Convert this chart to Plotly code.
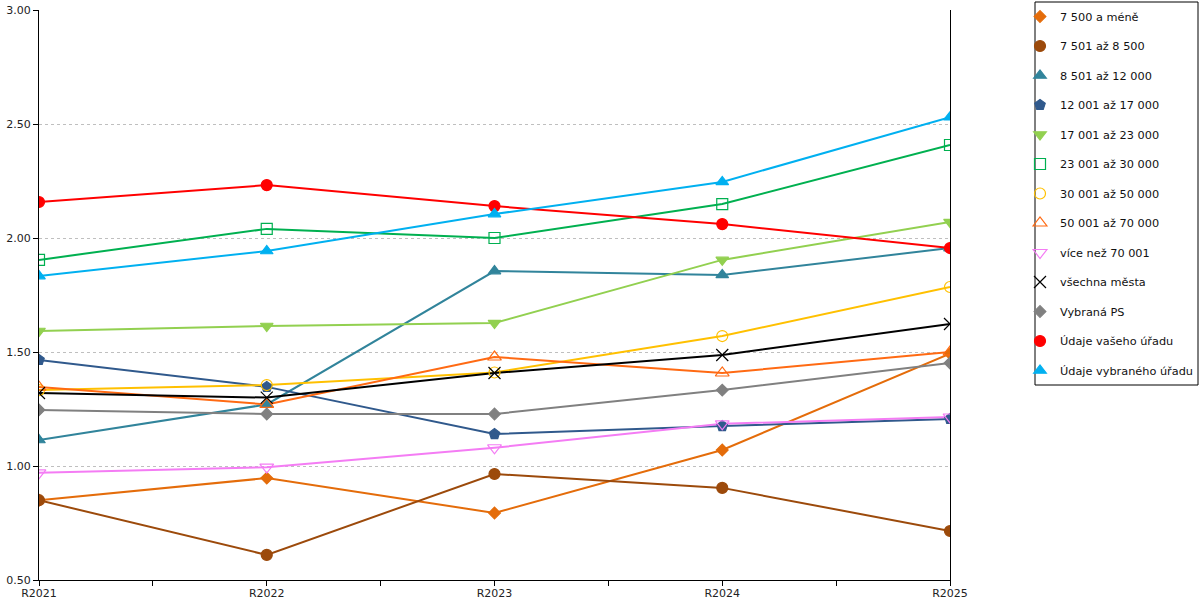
import plotly.graph_objects as go

# ── data ────────────────────────────────────────────────────────────────
YEARS = [2021, 2022, 2023, 2024, 2025]
YEAR_LABELS = ["R2021", "R2022", "R2023", "R2024", "R2025"]

SERIES_NAMES = [
    "7 500 a méně",
    "7 501 až 8 500",
    "8 501 až 12 000",
    "12 001 až 17 000",
    "17 001 až 23 000",
    "23 001 až 30 000",
    "30 001 až 50 000",
    "50 001 až 70 000",
    "více než 70 001",
    "všechna města",
    "Vybraná PS",
    "Údaje vašeho úřadu",
    "Údaje vybraného úřadu",
]

v_do_7500 = [0.85, 0.947, 0.794, 1.07, 1.493]
v_7501_8500 = [0.85, 0.61, 0.965, 0.904, 0.715]
v_8501_12000 = [1.114, 1.27, 1.855, 1.838, 1.956]
v_12001_17000 = [1.465, 1.347, 1.14, 1.175, 1.206]
v_17001_23000 = [1.592, 1.614, 1.627, 1.904, 2.07]
v_23001_30000 = [1.904, 2.04, 2.0, 2.149, 2.408]
v_30001_50000 = [1.333, 1.355, 1.41, 1.57, 1.785]
v_50001_70000 = [1.346, 1.27, 1.478, 1.408, 1.5]
v_nad_70001 = [0.97, 0.995, 1.08, 1.185, 1.215]
v_vsechna = [1.32, 1.30, 1.408, 1.487, 1.623]
v_vybrana_ps = [1.246, 1.228, 1.228, 1.333, 1.452]
v_vas_urad = [2.158, 2.232, 2.14, 2.061, 1.956]
v_vybrany_urad = [1.833, 1.943, 2.105, 2.246, 2.53]

VALUES = [
    v_do_7500, v_7501_8500, v_8501_12000, v_12001_17000, v_17001_23000,
    v_23001_30000, v_30001_50000, v_50001_70000, v_nad_70001, v_vsechna,
    v_vybrana_ps, v_vas_urad, v_vybrany_urad,
]

# ── styling ─────────────────────────────────────────────────────────────
FONT = "DejaVu Sans, Verdana, sans-serif"
W, H = 1200, 600
PLOT_L, PLOT_R, PLOT_T, PLOT_B = 39, 950, 10, 580   # plot area in pixels

STYLES = [
    # (colour, marker symbol, marker size)
    ("#E46C0A", "diamond", 9),
    ("#9C4A0B", "circle", 11),
    ("#31849B", "triangle-up", 11),
    ("#30598C", "pentagon", 11),
    ("#92D050", "triangle-down", 11),
    ("#00B050", "square-open", 11),
    ("#FFC000", "circle-open", 11),
    ("#FF6A13", "triangle-up-open", 12),
    ("#F47CF4", "triangle-down-open", 12),
    ("#000000", "x-thin-open", 12),
    ("#808080", "diamond", 9),
    ("#FF0000", "circle", 11),
    ("#00B0F0", "triangle-up", 11),
]

fig = go.Figure()

# lines first (no legend entry)
for name, vals, (color, symbol, size) in zip(SERIES_NAMES, VALUES, STYLES):
    fig.add_trace(go.Scatter(
        x=YEARS, y=vals, mode="lines", name=name,
        line=dict(color=color, width=2),
        showlegend=False, hoverinfo="skip",
    ))

# markers on top, these carry the legend (markers only, like the original)
for i, (name, vals, (color, symbol, size)) in enumerate(zip(SERIES_NAMES, VALUES, STYLES)):
    fig.add_trace(go.Scatter(
        x=YEARS, y=vals, mode="markers", name=name,
        legendgroup=f"g{i}",
        marker=dict(color=color, symbol=symbol, size=size,
                    line=dict(color=color, width=1.2)),
    ))


def px_x(p):
    return (p - PLOT_L) / (PLOT_R - PLOT_L)


def px_y(p):
    return (PLOT_B - p) / (PLOT_B - PLOT_T)


# legend frame
fig.add_shape(
    type="rect", xref="paper", yref="paper",
    x0=px_x(1035), x1=px_x(1198), y0=px_y(385), y1=px_y(2),
    line=dict(color="#000000", width=1), fillcolor="rgba(0,0,0,0)",
)

fig.update_layout(
    width=W,
    height=H,
    font=dict(family=FONT, size=11, color="#222222"),
    paper_bgcolor="white",
    plot_bgcolor="white",
    margin=dict(l=PLOT_L, r=W - PLOT_R, t=PLOT_T, b=H - PLOT_B, autoexpand=False),
    legend=dict(
        xref="container", yref="container",
        x=1020 / W, y=1 - 2 / H,
        xanchor="left", yanchor="top",
        bgcolor="rgba(0,0,0,0)", borderwidth=0,
        font=dict(family=FONT, size=11.3, color="#111111"),
        traceorder="grouped", tracegroupgap=10.5,
        maxheight=H,
        itemclick=False,
    ),
    xaxis=dict(
        range=[2021, 2025], automargin=False,
        tickvals=YEARS, ticktext=YEAR_LABELS,
        showgrid=False, zeroline=False,
        showline=True, linecolor="#000000", linewidth=1,
        ticks="outside", ticklen=5, tickcolor="#000000",
        ticklabelstandoff=-2,
        minor=dict(dtick=0.5, ticks="outside", ticklen=5, tickcolor="#000000"),
    ),
    yaxis=dict(
        range=[0.5, 3.0], dtick=0.5, tickformat=".2f", automargin=False,
        showgrid=True, gridcolor="#BFBFBF", griddash="dot",
        zeroline=False,
        showline=True, linecolor="#000000", linewidth=1, mirror=True,
        ticks="outside", ticklen=5, tickcolor="#000000",
    ),
)

# the page body has a default 8px margin; drop it so the chart sits at 0,0
fig.write_html(
    "out.html",
    config={"displayModeBar": False},
    post_script="document.body.style.margin='0';",
)
